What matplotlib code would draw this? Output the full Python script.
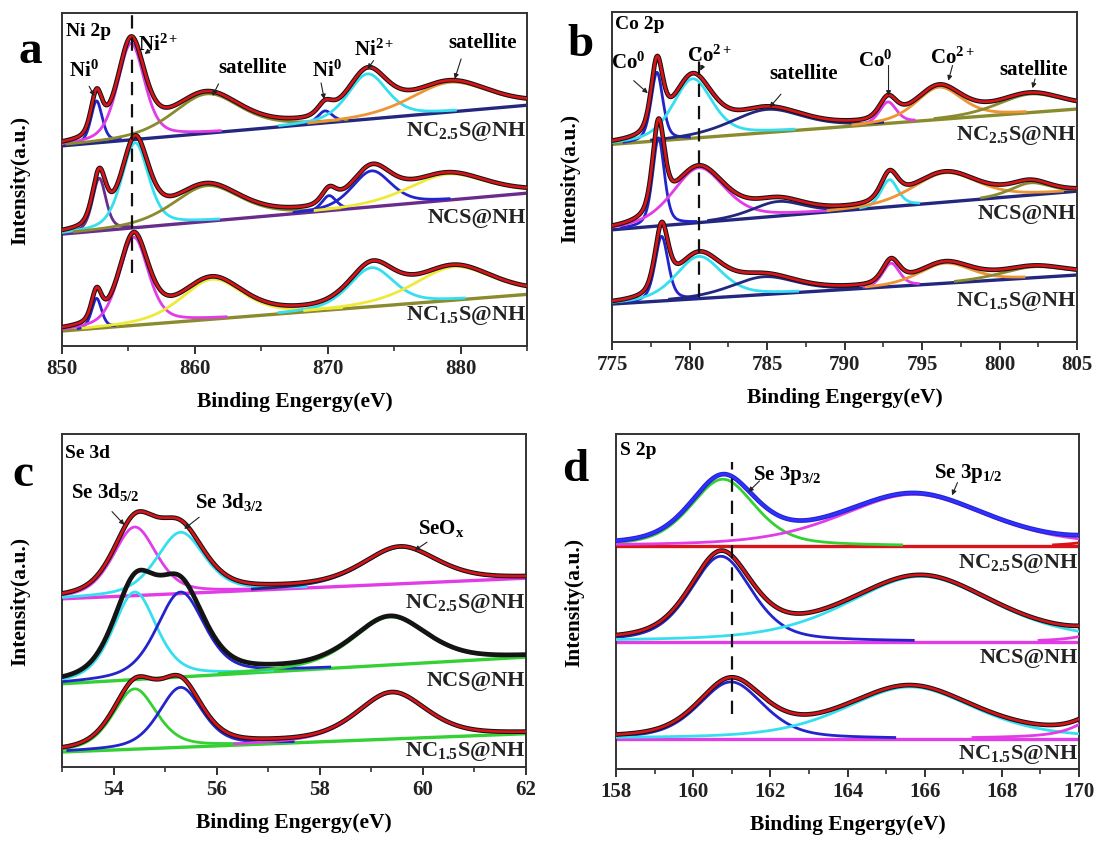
import numpy as np
import matplotlib.pyplot as plt
from matplotlib.ticker import MultipleLocator

plt.rcParams['font.family'] = ['Liberation Serif', 'DejaVu Serif']
plt.rcParams['font.weight'] = 'bold'
plt.rcParams['axes.labelweight'] = 'bold'
plt.rcParams['mathtext.fontset'] = 'custom'
plt.rcParams['mathtext.rm'] = 'Liberation Serif:bold'
plt.rcParams['mathtext.it'] = 'Liberation Serif:bold'
plt.rcParams['mathtext.bf'] = 'Liberation Serif:bold'

samples = ['NC$_{2.5}$S@NH', 'NCS@NH', 'NC$_{1.5}$S@NH']

# ---------------- Ni 2p ----------------
ni_xlim = (850, 885)
ni_ticks = [850, 860, 870, 880]
ni_base = [(0.601, 0.723), (0.336, 0.459), (0.045, 0.155)]
ni_center = [[852.6, 855.2, 860.9, 869.8, 873.0, 879.2],
             [852.8, 855.5, 860.9, 870.1, 873.3, 879.0],
             [852.6, 855.4, 861.3, 873.3, 879.5]]
ni_height = [[0.126, 0.290, 0.118, 0.036, 0.136, 0.089],
             [0.158, 0.255, 0.107, 0.045, 0.108, 0.078],
             [0.090, 0.265, 0.120, 0.117, 0.100]]
ni_fwhm = [[1.0, 2.4, 6.0, 1.3, 3.5, 7.0],
           [1.2, 2.4, 6.0, 1.3, 3.5, 7.0],
           [0.9, 2.6, 5.5, 4.0, 7.0]]
ni_label_y = [0.646, 0.386, 0.095]

# ---------------- Co 2p ----------------
co_xlim = (775, 805)
co_ticks = [775, 780, 785, 790, 795, 800, 805]
co_base = [(0.599, 0.706), (0.340, 0.457), (0.115, 0.203)]
co_center = [[777.9, 780.2, 785.0, 792.8, 796.1, 802.0],
             [778.0, 780.6, 785.7, 792.9, 796.5, 802.0],
             [778.2, 780.6, 784.8, 793.0, 796.5, 802.2]]
co_height = [[0.208, 0.180, 0.070, 0.065, 0.098, 0.056],
             [0.267, 0.166, 0.044, 0.082, 0.089, 0.037],
             [0.196, 0.128, 0.054, 0.071, 0.061, 0.033]]
co_fwhm = [[0.9, 3.0, 5.5, 1.3, 3.5, 5.0],
           [0.9, 4.0, 4.0, 1.3, 5.0, 3.0],
           [1.0, 3.5, 5.0, 1.3, 4.0, 5.0]]
co_label_y = [0.629, 0.390, 0.127]

# ---------------- Se 3d ----------------
se_xlim = (53, 62)
se_ticks = [54, 56, 58, 60, 62]
se_base = [(0.505, 0.567), (0.250, 0.330), (0.045, 0.100)]
se_center = [[54.41, 55.30, 59.56],
             [54.41, 55.30, 59.36],
             [54.41, 55.30, 59.40]]
se_height = [[0.206, 0.184, 0.110],
             [0.263, 0.255, 0.144],
             [0.181, 0.180, 0.139]]
se_fwhm = [[1.0, 1.1, 1.7],
           [1.0, 1.1, 1.7],
           [1.0, 1.0, 1.6]]
se_label_y = [0.495, 0.260, 0.050]

# ---------------- S 2p ----------------
s_xlim = (158, 170)
s_ticks = [158, 160, 162, 164, 166, 168, 170]
s_base = [(0.665, 0.665), (0.380, 0.380), (0.090, 0.090)]
s_center = [[160.77, 165.72, 171.5],
            [160.72, 165.90, 171.5],
            [160.98, 165.62, 171.5]]
s_height = [[0.200, 0.155, 0.040],
            [0.255, 0.195, 0.060],
            [0.170, 0.155, 0.170]]
s_fwhm = [[2.0, 4.5, 2.0],
          [1.9, 4.5, 2.0],
          [2.0, 4.0, 2.0]]
s_label_y = [0.615, 0.335, 0.045]

# colours
BLUE, MAG, OLIVE, CYAN = '#2424cc', '#e23ce6', '#8a8a2e', '#36dff0'
ORANGE, YELLOW, NAVY, PURPLE = '#ee9432', '#eeea3a', '#23287e', '#6a2c8c'
GREEN, RED, BLACK = '#34d034', '#d8141a', '#141414'

ETA = 0.45


def pvoigt(x, c, h, w):
    u = (x - c) / w
    return h * ((1 - ETA) * np.exp(-4 * np.log(2) * u ** 2) + ETA / (1 + 4 * u ** 2))


def draw_panel(ax, xlim, bases, centers, heights, fwhms, comp_cols,
               base_cols, data_cols, fit_cols):
    x = np.linspace(xlim[0], xlim[1], 800)
    for i in range(3):
        b0, b1 = bases[i]
        base = b0 + (b1 - b0) * (x - xlim[0]) / (xlim[1] - xlim[0])
        total = base.copy()
        ax.plot(x, base, color=base_cols[i], lw=2.4, zorder=2)
        for c, h, w, col in zip(centers[i], heights[i], fwhms[i], comp_cols[i]):
            p = pvoigt(x, c, h, w)
            total += p
            y = np.where(p > 0.004, base + p, np.nan)
            ax.plot(x, y, color=col, lw=2.0, zorder=3)
        ax.plot(x, total, color=data_cols[i], lw=3.4, zorder=4)
        ax.plot(x, total, color=fit_cols[i], lw=1.9, zorder=5)
    ax.set_xlim(*xlim)
    ax.set_ylim(0, 1)
    ax.set_yticks([])
    ax.tick_params(axis='x', which='major', direction='out', length=6,
                   width=1.3, labelsize=15, pad=3, colors='#222222')
    ax.tick_params(axis='x', which='minor', direction='out', length=3.5,
                   width=1.1, colors='#222222')
    for s in ax.spines.values():
        s.set_linewidth(1.4)
        s.set_color('#333333')
    ax.set_xlabel('Binding Engergy(eV)', fontsize=15.5, labelpad=9)
    ax.set_ylabel('Intensity(a.u.)', fontsize=15.5)
    ax.yaxis.set_label_coords(-0.068, 0.5)


def sample_labels(ax, xlim, ys):
    for lab, y in zip(samples, ys):
        ax.text(xlim[1] - 0.002 * (xlim[1] - xlim[0]), y, lab, ha='right',
                va='center', fontsize=16, color='#222222', zorder=6)


def tag(ax, text, xy, tip, start, fs=15):
    ax.text(xy[0], xy[1], text, ha='center', va='center', fontsize=fs, zorder=7)
    ax.annotate('', xy=tip, xytext=start, zorder=7,
                arrowprops=dict(arrowstyle='-|>', lw=0.8, color='#222222',
                                mutation_scale=7, shrinkA=0, shrinkB=0))


W, H = 1099, 845
fig = plt.figure(figsize=(W / 100, H / 100), dpi=100)


def axes_px(l, t, r, b):
    return fig.add_axes([l / W, 1 - b / H, (r - l) / W, (b - t) / H])


ax_a = axes_px(62, 14, 527, 347)
ax_b = axes_px(612, 13, 1077, 343)
ax_c = axes_px(62, 435, 526, 768)
ax_d = axes_px(616, 435, 1079, 770)

# panel a
draw_panel(ax_a, ni_xlim, ni_base, ni_center, ni_height, ni_fwhm,
           [[BLUE, MAG, OLIVE, BLUE, CYAN, ORANGE],
            [PURPLE, CYAN, OLIVE, BLUE, BLUE, YELLOW],
            [BLUE, MAG, YELLOW, CYAN, YELLOW]],
           [NAVY, PURPLE, OLIVE], [BLACK] * 3, [RED] * 3)
ax_a.set_xticks(ni_ticks)
ax_a.xaxis.set_minor_locator(MultipleLocator(5))
ax_a.plot([855.3, 855.3], [0.22, 1.0], color='#111111', lw=1.6,
          ls=(0, (6, 4)), zorder=6)
ax_a.text(850.3, 0.947, 'Ni 2p', ha='left', va='center', fontsize=14)
tag(ax_a, 'Ni$^{0}$', (851.65, 0.827), (852.44, 0.751), (852.04, 0.780))
tag(ax_a, 'Ni$^{2+}$', (857.27, 0.907), (856.21, 0.877), (856.69, 0.890))
tag(ax_a, 'satellite', (864.38, 0.837), (861.33, 0.751), (861.78, 0.787))
tag(ax_a, 'Ni$^{0}$', (869.96, 0.827), (869.74, 0.741), (869.50, 0.790))
tag(ax_a, 'Ni$^{2+}$', (873.53, 0.892), (873.00, 0.832), (873.45, 0.857))
tag(ax_a, 'satellite', (881.63, 0.912), (879.56, 0.802), (880.04, 0.862))
sample_labels(ax_a, ni_xlim, ni_label_y)

# panel b
draw_panel(ax_b, co_xlim, co_base, co_center, co_height, co_fwhm,
           [[BLUE, CYAN, NAVY, MAG, ORANGE, OLIVE],
            [BLUE, MAG, NAVY, CYAN, ORANGE, OLIVE],
            [BLUE, CYAN, NAVY, MAG, ORANGE, OLIVE]],
           [OLIVE, NAVY, NAVY], [BLACK] * 3, [RED] * 3)
ax_b.set_xticks(co_ticks)
ax_b.xaxis.set_minor_locator(MultipleLocator(2.5))
ax_b.plot([780.6, 780.6], [0.137, 0.89], color='#111111', lw=1.6,
          ls=(0, (6, 4)), zorder=6)
ax_b.text(775.2, 0.965, 'Co 2p', ha='left', va='center', fontsize=14)
tag(ax_b, 'Co$^{0}$', (776.06, 0.848), (777.31, 0.754), (776.40, 0.792))
tag(ax_b, 'Co$^{2+}$', (781.26, 0.868), (780.70, 0.822), (780.86, 0.838))
tag(ax_b, 'satellite', (787.37, 0.815), (785.17, 0.711), (785.90, 0.751))
tag(ax_b, 'Co$^{0}$', (792.00, 0.855), (792.84, 0.746), (792.84, 0.838))
tag(ax_b, 'Co$^{2+}$', (796.97, 0.863), (796.70, 0.792), (796.97, 0.838))
tag(ax_b, 'satellite', (802.17, 0.827), (802.13, 0.769), (802.29, 0.797))
sample_labels(ax_b, co_xlim, co_label_y)

# panel c
draw_panel(ax_c, se_xlim, se_base, se_center, se_height, se_fwhm,
           [[MAG, CYAN, NAVY], [CYAN, BLUE, GREEN], [GREEN, BLUE, MAG]],
           [MAG, GREEN, GREEN], [BLACK] * 3, [RED, BLACK, RED])
ax_c.set_xticks(se_ticks)
ax_c.xaxis.set_minor_locator(MultipleLocator(1))
ax_c.text(53.05, 0.945, 'Se 3d', ha='left', va='center', fontsize=14)
tag(ax_c, 'Se 3d$_{5/2}$', (53.83, 0.830), (54.21, 0.727), (53.97, 0.767))
tag(ax_c, 'Se 3d$_{3/2}$', (56.25, 0.800), (55.37, 0.715), (55.66, 0.750))
tag(ax_c, 'SeO$_{x}$', (60.35, 0.720), (59.84, 0.650), (60.08, 0.675))
sample_labels(ax_c, se_xlim, se_label_y)

# panel d
draw_panel(ax_d, s_xlim, s_base, s_center, s_height, s_fwhm,
           [[GREEN, MAG, RED], [BLUE, CYAN, MAG], [BLUE, CYAN, MAG]],
           [RED, MAG, MAG], [BLUE, BLACK, BLACK], ['#3030ff', RED, RED])
ax_d.set_xticks(s_ticks)
ax_d.xaxis.set_minor_locator(MultipleLocator(1))
ax_d.plot([161.0, 161.0], [0.165, 0.915], color='#111111', lw=1.6,
          ls=(0, (6, 4)), zorder=6)
ax_d.text(158.1, 0.955, 'S 2p', ha='left', va='center', fontsize=14)
tag(ax_d, 'Se 3p$_{3/2}$', (162.45, 0.880), (161.43, 0.827), (161.72, 0.860))
tag(ax_d, 'Se 3p$_{1/2}$', (167.12, 0.885), (166.71, 0.817), (166.85, 0.855))
sample_labels(ax_d, s_xlim, s_label_y)

# panel letters
for letter, px, py in [('a', 30, 52), ('b', 580, 45), ('c', 23, 475), ('d', 575, 470)]:
    fig.text(px / W, 1 - py / H, letter, fontsize=34, ha='center', va='center')

fig.savefig('out.png', dpi=100)
